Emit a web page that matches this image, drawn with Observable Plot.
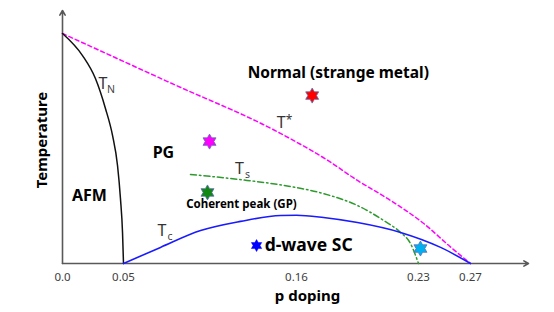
<!DOCTYPE html>
<html><head><meta charset="utf-8">
<script src="https://cdn.jsdelivr.net/npm/d3@7"></script>
<script src="https://cdn.jsdelivr.net/npm/@observablehq/plot@0.6"></script>
<style>body{margin:0;background:#fff;}</style>
</head><body><div id="chart"></div>
<script>
// x tick values and labels (schematic, piecewise axis)
const xTicks = [0, 0.05, 0.16, 0.23, 0.27];
const xTickLabels = ["0.0", "0.05", "0.16", "0.23", "0.27"];

// T* (pseudogap crossover)
const tStarP = [0, 0.078, 0.150, 0.178, 0.195, 0.214, 0.234, 0.255, 0.27];
const tStarT = [1.0, 0.791, 0.565, 0.448, 0.361, 0.274, 0.174, 0.070, 0];
// T_N (Neel)
const tnP = [0, 0.0164, 0.027, 0.0352, 0.041, 0.0451, 0.0475, 0.0492, 0.05];
const tnT = [1.0, 0.904, 0.804, 0.674, 0.557, 0.426, 0.283, 0.135, 0];
// T_c (superconducting dome)
const tcP = [0.05, 0.0735, 0.099, 0.1244, 0.150, 0.16, 0.1755, 0.195, 0.2197, 0.247, 0.27];
const tcT = [0, 0.070, 0.143, 0.183, 0.209, 0.210, 0.200, 0.178, 0.135, 0.070, 0];
// T_s
const tsP = [0.0926, 0.124, 0.156, 0.1755, 0.195, 0.210, 0.2197, 0.2254, 0.23];
const tsT = [0.387, 0.365, 0.335, 0.304, 0.252, 0.187, 0.135, 0.087, 0];

// star markers
const starP = [0.1047, 0.169, 0.1034, 0.2315];
const starT = [0.530, 0.730, 0.309, 0.065];
const starColor = ["#ff00ff", "#ff0000", "#118811", "#00b0f0"];
const scStarP = [0.1346];
const scStarT = [0.078];

// region labels
const regionText = ["Normal (strange metal)", "PG", "AFM", "d-wave SC"];
const regionP = [0.184, 0.0754, 0.0221, 0.167];
const regionT = [0.830, 0.483, 0.296, 0.078];
const gpText = ["Coherent peak (GP)"];
const gpP = [0.125];
const gpT = [0.257];

// curve labels
const curveMain = ["T", "T", "T", "T"];
const curveSub = ["N", "*", "s", "c"];
const curveP = [0.0332, 0.1502, 0.1238, 0.0745];
const curveT = [0.783, 0.611, 0.413, 0.143];

const zip = (ps, ts) => ps.map((p, i) => ({p, T: ts[i]}));
const stars = starP.map((p, i) => ({p, T: starT[i], c: starColor[i]}));
const regions = regionP.map((p, i) => ({p, T: regionT[i], s: regionText[i]}));
const curveLabels = curveP.map((p, i) => ({p, T: curveT[i], m: curveMain[i], s: curveSub[i]}));

// schematic (piecewise) doping axis
const xEnd = 0.315;
const piece = d3.scaleLinear().domain([0, 0.05, 0.16, 0.23, 0.27, xEnd]).range([0, 61, 234, 356, 408, 466]);

// six-pointed star symbol
const hexagram = {
  draw(ctx, size) {
    const R = Math.sqrt(size / Math.PI);
    const r = R / Math.sqrt(3);
    for (let k = 0; k < 12; k++) {
      const a = -Math.PI / 2 + k * Math.PI / 6;
      const rr = k % 2 === 0 ? R : r;
      const x = rr * Math.cos(a), y = rr * Math.sin(a);
      if (k === 0) ctx.moveTo(x, y); else ctx.lineTo(x, y);
    }
    ctx.closePath();
  }
};

const font = "'Noto Sans', sans-serif";
const chart = Plot.plot({
  width: 554, height: 312,
  marginLeft: 62, marginRight: 26, marginTop: 10, marginBottom: 49,
  style: {fontFamily: font, background: "#fff"},
  x: {transform: piece, domain: [0, 466], range: [62, 528], axis: null},
  y: {domain: [0, 1.1], range: [263, 10], axis: null},
  marks: [
    Plot.axisX(xTicks, {tickSize: 0, tickPadding: 9, tickFormat: (d, i) => xTickLabels[i], fontSize: 11.5, fill: "#404040", label: null}),
    Plot.arrow([{x1: 0, y1: 0, x2: xEnd, y2: 0}], {x1: "x1", y1: "y1", x2: "x2", y2: "y2", stroke: "#595959", strokeWidth: 1.6, headLength: 5, bend: 0}),
    Plot.arrow([{x1: 0, y1: 0, x2: 0, y2: 1.1}], {x1: "x1", y1: "y1", x2: "x2", y2: "y2", stroke: "#595959", strokeWidth: 1.6, headLength: 5, bend: 0}),
    Plot.line(zip(tStarP, tStarT), {x: "p", y: "T", stroke: "#ff00ff", strokeWidth: 1.5, strokeDasharray: "4,3", curve: "monotone-x"}),
    Plot.line(zip(tnP, tnT), {x: "p", y: "T", stroke: "#111", strokeWidth: 1.5, curve: "monotone-x"}),
    Plot.line(zip(tsP, tsT), {x: "p", y: "T", stroke: "#2e9a2e", strokeWidth: 1.5, strokeDasharray: "6,3,1.5,3", curve: "monotone-x"}),
    Plot.line(zip(tcP, tcT), {x: "p", y: "T", stroke: "#1a1aff", strokeWidth: 1.6, curve: "monotone-x"}),
    Plot.dot(stars, {x: "p", y: "T", fill: "c", stroke: "#5a6fb0", strokeWidth: 0.8, r: 7.5, symbol: hexagram}),
    Plot.dot(zip(scStarP, scStarT), {x: "p", y: "T", fill: "#0000ff", stroke: "#0000ff", strokeWidth: 0.5, r: 6, symbol: hexagram}),
    Plot.text(regions.slice(0, 1), {x: "p", y: "T", text: "s", fontSize: 15.5, fontWeight: "bold", fill: "#000"}),
    Plot.text(regions.slice(1, 3), {x: "p", y: "T", text: "s", fontSize: 16, fontWeight: "bold", fill: "#000"}),
    Plot.text(regions.slice(3, 4), {x: "p", y: "T", text: "s", fontSize: 17.5, fontWeight: "bold", fill: "#000"}),
    Plot.text(zip(gpP, gpT).map((d, i) => ({...d, s: gpText[i]})), {x: "p", y: "T", text: "s", fontSize: 11.5, fontWeight: "bold", fill: "#000"}),
    Plot.text(curveLabels, {x: "p", y: "T", text: "m", fontSize: 16, fill: "#333"}),
    Plot.text(curveLabels.filter(d => d.s !== "*"), {x: "p", y: "T", text: "s", fontSize: 10.5, fill: "#444", dx: 8, dy: 6}),
    Plot.text(curveLabels.filter(d => d.s === "*"), {x: "p", y: "T", text: "s", fontSize: 12, fill: "#333", dx: 8, dy: -3}),
    Plot.text(["Temperature"], {frameAnchor: "left", textAnchor: "middle", text: d => d, rotate: -90, dx: -20, dy: 3, fontSize: 15, fontWeight: "bold", fill: "#000"}),
    Plot.text(["p doping"], {frameAnchor: "bottom", textAnchor: "middle", text: d => d, dx: 12, dy: 37, fontSize: 15, fontWeight: "bold", fill: "#000"})
  ]
});
document.getElementById("chart").append(chart);
</script>
</body></html>
